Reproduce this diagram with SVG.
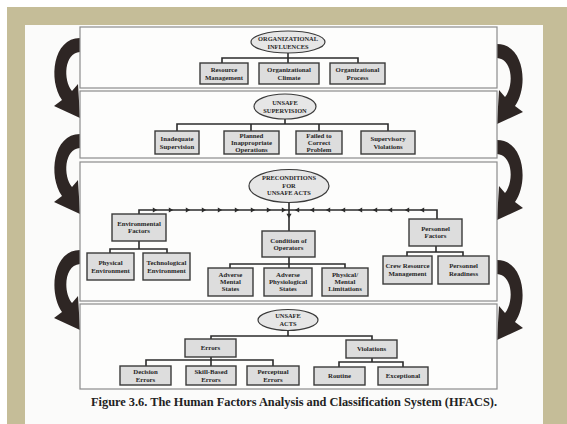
<svg xmlns="http://www.w3.org/2000/svg" xmlns:xlink="http://www.w3.org/1999/xlink" width="567" height="424" viewBox="0 0 567 424">
<style>
.panel{fill:#fdfdfc;stroke:#8c8c8c;stroke-width:1.2}
.box{fill:#dddddd;stroke:#3a3a3a;stroke-width:1.4}
.ell{fill:#e6e6e6;stroke:#3a3a3a;stroke-width:1.2}
.ln{stroke:#2b2b2b;stroke-width:1.6;fill:none}
.ah{fill:#2b2b2b}
.arr{fill:#2e2624}
text{font-family:"Liberation Serif","Times New Roman",serif;font-weight:bold;font-size:6.8px;fill:#262626;text-anchor:middle}
.et{font-size:6.4px}
.cap{font-size:12.5px;fill:#222}
</style>
<defs>
<path id="carrow" d="M0,-6 C-27,-6 -32,36 -18,56 L-26,62 L0,74 L-2,40 L-8,47 C-17,36 -16,9 0,8 Z"/>
<path id="tick" d="M-2.2,-2.6 L2.2,0 L-2.2,2.6 Z"/>
</defs>
<rect x="0" y="0" width="567" height="424" fill="#ffffff"/>
<rect x="7" y="7" width="560" height="417" fill="#c5bd98"/>
<rect x="25" y="25" width="518" height="399" fill="#fbfbfa"/>

<g id="curved-arrows" class="arr">
<use xlink:href="#carrow" transform="translate(80,44)"/>
<use xlink:href="#carrow" transform="translate(80,140)"/>
<use xlink:href="#carrow" transform="translate(80,256)"/>
<use xlink:href="#carrow" transform="translate(497,50) scale(-1,1)"/>
<use xlink:href="#carrow" transform="translate(497,146) scale(-1,1)"/>
<use xlink:href="#carrow" transform="translate(497,266) scale(-1,1)"/>
</g>

<g id="panels">
<rect class="panel" x="80" y="27" width="417" height="61"/>
<rect class="panel" x="80" y="91" width="417" height="67"/>
<rect class="panel" x="80" y="162" width="417" height="139"/>
<rect class="panel" x="80" y="304" width="417" height="85"/>
</g>

<g id="connectors">
<path class="ln" d="M288,53 V58 M222,63 V58 H358 V63 M288,58 V63"/>
<path class="ln" d="M285,119 V124 M177,131 V124 H388 V131 M251,124 V131 M319,124 V131"/>
<path class="ln" d="M289,202 V231 M139,214 V210 H437 V219"/>
<path class="ln" d="M139,241 V249 M110,253 V249 H167 V253"/>
<path class="ln" d="M289,257 V264 M230,268 V264 H345 V268 M289,264 V268"/>
<path class="ln" d="M436,246 V252 M407,256 V252 H463 V256"/>
<path class="ln" d="M288,330 V336 M211,339 V336 H372 V340"/>
<path class="ln" d="M211,357 V360 M146,366 V360 H273 V366 M211,360 V366"/>
<path class="ln" d="M372,358 V362 M339,367 V362 H403 V367"/>
<g class="ah">
<use xlink:href="#tick" x="155" y="210"/><use xlink:href="#tick" x="171" y="210"/><use xlink:href="#tick" x="188" y="210"/>
<use xlink:href="#tick" x="204" y="210"/><use xlink:href="#tick" x="220" y="210"/><use xlink:href="#tick" x="237" y="210"/>
<use xlink:href="#tick" x="253" y="210"/><use xlink:href="#tick" x="269" y="210"/><use xlink:href="#tick" x="284" y="210"/>
<use xlink:href="#tick" transform="translate(297,210) rotate(180)"/><use xlink:href="#tick" transform="translate(312,210) rotate(180)"/>
<use xlink:href="#tick" transform="translate(328,210) rotate(180)"/><use xlink:href="#tick" transform="translate(343,210) rotate(180)"/>
<use xlink:href="#tick" transform="translate(360,210) rotate(180)"/><use xlink:href="#tick" transform="translate(375,210) rotate(180)"/>
<use xlink:href="#tick" transform="translate(390,210) rotate(180)"/><use xlink:href="#tick" transform="translate(407,210) rotate(180)"/>
<use xlink:href="#tick" transform="translate(422,210) rotate(180)"/>
<use xlink:href="#tick" transform="translate(289,216) rotate(90)"/>
</g>
</g>

<g id="org-influences"><ellipse class="ell" cx="288" cy="42" rx="37" ry="11"/><text class="et" x="288" y="40.5">ORGANIZATIONAL</text><text class="et" x="288" y="48.5">INFLUENCES</text></g>
<g id="resource-management"><rect class="box" x="200" y="63" width="48" height="21"/><text x="224" y="72">Resource</text><text x="224" y="79.5">Management</text></g>
<g id="organizational-climate"><rect class="box" x="259" y="63" width="60" height="21"/><text x="289" y="72">Organizational</text><text x="289" y="79.5">Climate</text></g>
<g id="organizational-process"><rect class="box" x="330" y="63" width="55" height="21"/><text x="357.5" y="72">Organizational</text><text x="357.5" y="79.5">Process</text></g>

<g id="unsafe-supervision"><ellipse class="ell" cx="285" cy="106.5" rx="31" ry="12.5"/><text class="et" x="285" y="105">UNSAFE</text><text class="et" x="285" y="113">SUPERVISION</text></g>
<g id="inadequate-supervision"><rect class="box" x="155" y="131" width="44" height="23"/><text x="177" y="141">Inadequate</text><text x="177" y="148.5">Supervision</text></g>
<g id="planned-inappropriate-operations"><rect class="box" x="224" y="131" width="55" height="23"/><text x="251.5" y="137.8">Planned</text><text x="251.5" y="144.8">Inappropriate</text><text x="251.5" y="151.8">Operations</text></g>
<g id="failed-to-correct-problem"><rect class="box" x="296" y="131" width="46" height="23"/><text x="319" y="137.8">Failed to</text><text x="319" y="144.8">Correct</text><text x="319" y="151.8">Problem</text></g>
<g id="supervisory-violations"><rect class="box" x="361" y="131" width="54" height="23"/><text x="388" y="141">Supervisory</text><text x="388" y="148.5">Violations</text></g>

<g id="preconditions"><ellipse class="ell" cx="289" cy="186" rx="40" ry="16.5"/><text class="et" x="289" y="180">PRECONDITIONS</text><text class="et" x="289" y="187.5">FOR</text><text class="et" x="289" y="195">UNSAFE ACTS</text></g>
<g id="environmental-factors"><rect class="box" x="112" y="214" width="54" height="27"/><text x="139" y="225.5">Environmental</text><text x="139" y="233">Factors</text></g>
<g id="physical-environment"><rect class="box" x="87" y="253" width="47" height="27"/><text x="110.5" y="265">Physical</text><text x="110.5" y="272.5">Environment</text></g>
<g id="technological-environment"><rect class="box" x="143" y="253" width="47" height="27"/><text x="166.5" y="265">Technological</text><text x="166.5" y="272.5">Environment</text></g>
<g id="condition-of-operators"><rect class="box" x="262" y="231" width="53" height="26"/><text x="288.5" y="242.5">Condition of</text><text x="288.5" y="250">Operators</text></g>
<g id="adverse-mental-states"><rect class="box" x="208" y="268" width="45" height="28"/><text x="230.5" y="276.5">Adverse</text><text x="230.5" y="283.5">Mental</text><text x="230.5" y="290.5">States</text></g>
<g id="adverse-physiological-states"><rect class="box" x="264" y="268" width="48" height="28"/><text x="288" y="276.5">Adverse</text><text x="288" y="283.5">Physiological</text><text x="288" y="290.5">States</text></g>
<g id="physical-mental-limitations"><rect class="box" x="322" y="268" width="46" height="28"/><text x="345" y="276.5">Physical/</text><text x="345" y="283.5">Mental</text><text x="345" y="290.5">Limitations</text></g>
<g id="personnel-factors"><rect class="box" x="409" y="219" width="53" height="27"/><text x="435.5" y="230.5">Personnel</text><text x="435.5" y="238">Factors</text></g>
<g id="crew-resource-management"><rect class="box" x="383" y="256" width="49" height="28"/><text x="407.5" y="268">Crew Resource</text><text x="407.5" y="275.5">Management</text></g>
<g id="personnel-readiness"><rect class="box" x="438" y="256" width="51" height="28"/><text x="463.5" y="268">Personnel</text><text x="463.5" y="275.5">Readiness</text></g>

<g id="unsafe-acts"><ellipse class="ell" cx="288" cy="320" rx="30" ry="10.5"/><text class="et" x="288" y="318">UNSAFE</text><text class="et" x="288" y="325.5">ACTS</text></g>
<g id="errors"><rect class="box" x="185" y="339" width="51" height="18"/><text x="210.5" y="350.3">Errors</text></g>
<g id="violations"><rect class="box" x="346" y="340" width="51" height="18"/><text x="371.5" y="351.3">Violations</text></g>
<g id="decision-errors"><rect class="box" x="120" y="366" width="51" height="19"/><text x="145.5" y="374">Decision</text><text x="145.5" y="381.5">Errors</text></g>
<g id="skill-based-errors"><rect class="box" x="186" y="366" width="50" height="19"/><text x="211" y="374">Skill-Based</text><text x="211" y="381.5">Errors</text></g>
<g id="perceptual-errors"><rect class="box" x="247" y="366" width="52" height="19"/><text x="273" y="374">Perceptual</text><text x="273" y="381.5">Errors</text></g>
<g id="routine"><rect class="box" x="314" y="367" width="51" height="18"/><text x="339.5" y="378.3">Routine</text></g>
<g id="exceptional"><rect class="box" x="378" y="367" width="50" height="18"/><text x="403" y="378.3">Exceptional</text></g>

<text class="cap" x="294" y="406" textLength="406" lengthAdjust="spacingAndGlyphs">Figure 3.6. The Human Factors Analysis and Classification System (HFACS).</text>
</svg>
